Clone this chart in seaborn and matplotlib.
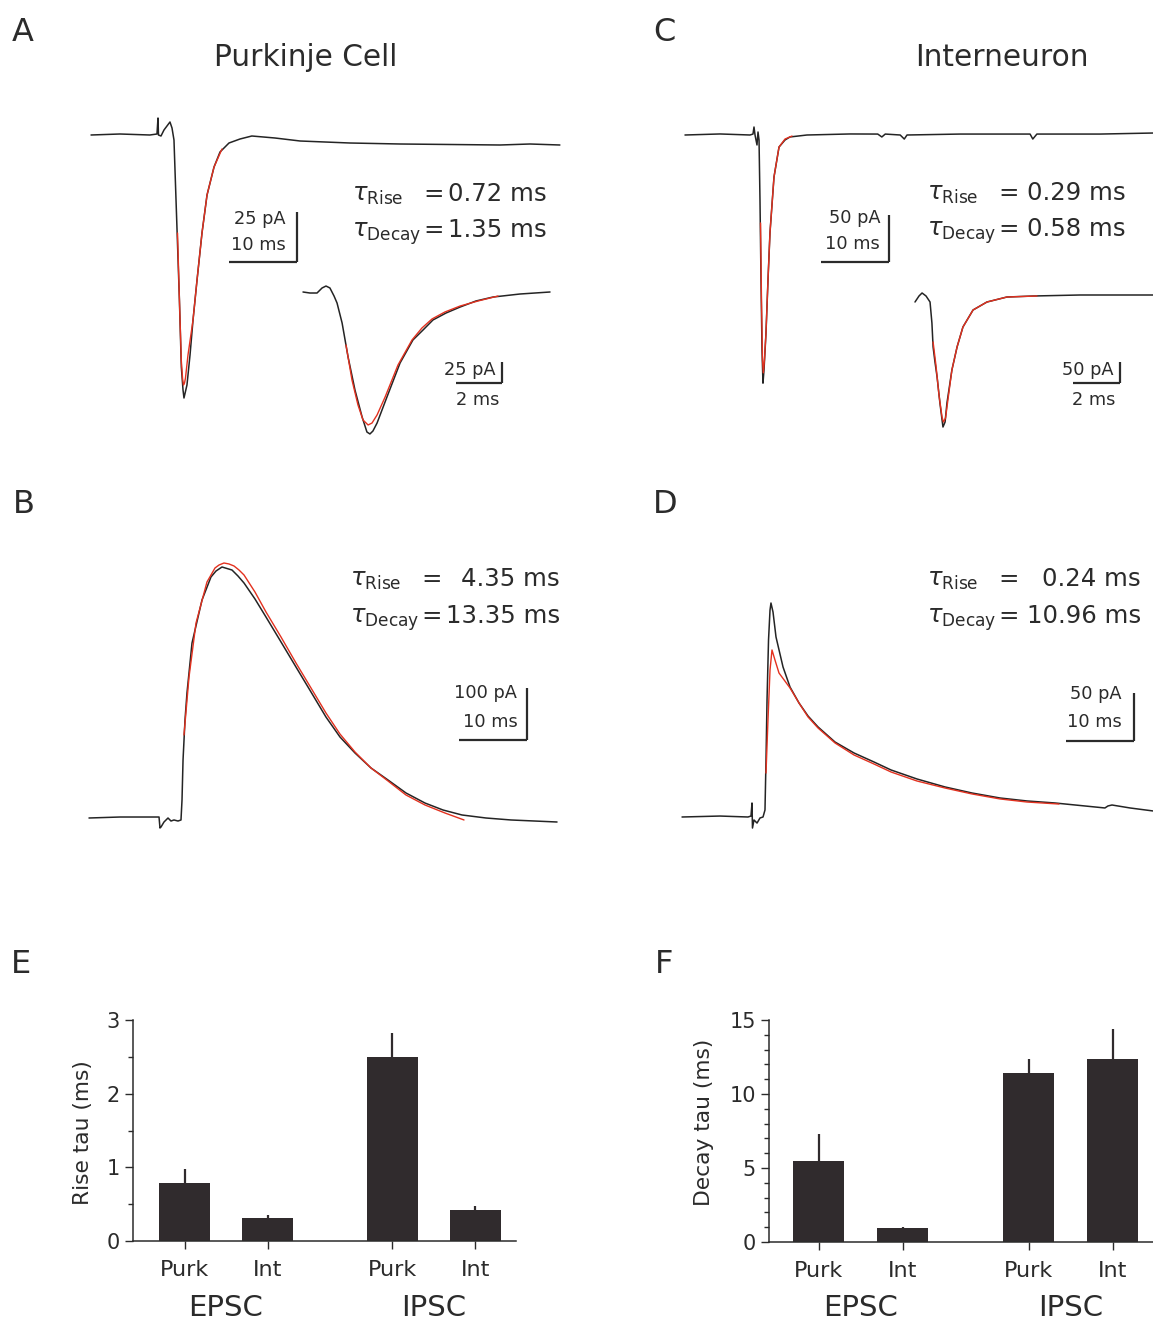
import numpy as np
import matplotlib
matplotlib.use("Agg")
import matplotlib.pyplot as plt
from matplotlib.ticker import MultipleLocator
import seaborn as sns

# ------------------------------------------------------------
# traces (time in ms, current in pA)
# ------------------------------------------------------------
# A: Purkinje cell EPSC
a_t = [-9.85, -5.6, -1.2, -0.15, 0.0, 0.07, 0.44, 0.88, 1.76, 2.06, 2.35, 2.65, 3.15, 3.43, 3.68,
       3.82, 4.26, 4.71, 5.15, 5.74, 6.47, 7.21, 8.24, 9.12, 10.44, 12.06, 13.8, 17.2, 20.9, 28.2,
       35.6, 43.0, 50.3, 54.7, 59.1]
a_i = [0, 0.5, 0, 0.5, 8.5, 0, -0.5, 2.5, 6.5, 3.5, -2.5, -32.5, -82.5, -116, -127.5,
       -131.5, -125, -110, -92.5, -72.5, -49, -30, -16, -8.5, -4, -2, -0.5, -1.5, -3, -4,
       -4.5, -4.75, -5, -4.5, -5]
a_fit_t = [2.87, 3.15, 3.43, 3.62, 3.75, 3.90, 4.04, 4.41, 5.15, 5.74, 6.47, 7.21, 8.24, 9.41]
a_fit_i = [-49, -82.5, -113, -122, -125, -124, -121.5, -110, -92.5, -72.5, -49, -30, -16, -7]
# A inset (expanded time base)
ai_t = [0, 0.30, 0.61, 0.83, 1.0, 1.17, 1.35, 1.48, 1.70, 1.96, 2.26, 2.57, 2.78, 2.91, 3.04,
        3.22, 3.65, 4.22, 4.78, 5.22, 5.65, 6.22, 6.83, 7.52, 8.26, 9.43, 10.74]
ai_i = [0, -1.2, -1.2, 4.8, 7.1, 4.8, -4.8, -13.1, -36.9, -77.4, -116.7, -148.8, -166.7, -169,
        -165.5, -156, -125, -84.5, -57.1, -45.2, -33.3, -25, -17.9, -10.7, -6, -2.4, 0]
ai_fit_t = [1.87, 2.13, 2.39, 2.61, 2.83, 3.0, 3.22, 3.57, 4.13, 4.74, 5.17, 5.61, 6.17, 6.83,
            7.61, 8.48]
ai_fit_i = [-63.1, -104.8, -134.5, -152.4, -158.3, -156, -146.4, -125, -86.9, -57.1, -42.9,
            -32.1, -23.8, -16.7, -10.7, -4.8]

# C: interneuron EPSC
c_t = [-10.15, -5.0, -0.59, -0.15, 0, 0.15, 0.44, 0.59, 0.74, 0.88, 1.03, 1.18, 1.32, 1.47, 1.76,
       2.06, 2.35, 2.94, 3.68, 4.56, 5.29, 7.79, 14.1, 18.2, 18.8, 19.3, 21.5, 22.1, 22.5, 30.3,
       40.6, 41.0, 41.6, 50.9, 58.7]
c_i = [0, 1.1, 0, 1, 8.5, 0, -10.6, 3.2, -5.3, -69, -154, -229, -264, -250, -211,
       -154, -104, -44.7, -12.8, -5.3, -2.1, 0, 1.1, 1, -2.1, 1, 0, -4.3, 0, 1,
       1, -4.3, 1, 1, 2.1]
c_fit_t = [0.96, 1.10, 1.25, 1.37, 1.54, 1.76, 2.06, 2.35, 2.94, 3.68, 4.56, 5.59]
c_fit_i = [-93.6, -175.5, -239, -253, -239, -211, -154, -104, -44.7, -12.8, -4.3, -1.1]
# C inset
ci_t = [0, 0.17, 0.30, 0.47, 0.64, 0.72, 0.77, 0.85, 0.94, 1.06, 1.19, 1.28, 1.36, 1.57, 1.79,
        2.04, 2.47, 3.06, 3.91, 5.02, 7.02, 10.13]
ci_i = [-16.7, -2.4, 4.8, -2.4, -16.7, -66.7, -123.8, -159.5, -195.2, -257.1, -314.3, -302.4,
        -257.1, -178.6, -123.8, -76.2, -35.7, -16.7, -4.8, -2.4, 0, 0]
ci_fit_t = [0.77, 0.89, 1.02, 1.15, 1.21, 1.30, 1.40, 1.57, 1.79, 2.04, 2.47, 3.06, 3.91, 5.19]
ci_fit_i = [-111.9, -166.7, -238.1, -290.5, -302.4, -292.9, -250, -178.6, -123.8, -76.2, -35.7,
            -16.7, -4.8, -2.4]

# B: Purkinje cell IPSC
b_t = [-10.59, -6.03, -0.88, -0.29, -0.15, 0, 0.44, 1.03, 1.47, 1.91, 2.5, 2.94, 3.09, 3.24, 3.53,
       3.82, 4.56, 6.03, 7.35, 8.09, 8.97, 10.44, 11.32, 12.21, 13.82, 15.44, 17.65, 19.85, 22.06,
       24.26, 26.32, 28.53, 30.88, 33.38, 36.03, 38.82, 41.47, 44.26, 47.79, 51.47, 58.24]
b_i = [0, 1.9, 1.9, 1.9, -19.2, -17.3, -7.7, 0, -5.8, -3.8, -5.8, -3.8, 34.6, 111.5, 188.5,
       240.4, 336.5, 419.2, 463.5, 475, 482.7, 476.9, 465.4, 451.9, 421.2, 386.5, 338.5, 290.4,
       242.3, 194.2, 155.8, 125, 96.2, 73.1, 48.1, 28.8, 15.4, 5.8, 0, -3.8, -7.7]
b_fit_t = [3.38, 4.12, 5.15, 6.76, 7.94, 8.53, 9.26, 10.0, 10.74, 11.47, 12.21, 13.82, 15.44,
           17.65, 19.85, 22.06, 24.26, 26.32, 28.53, 30.88, 33.38, 36.03, 38.82, 41.76, 44.56]
b_fit_i = [159.6, 271.2, 375, 453.8, 480.8, 486.5, 490.4, 488.5, 484.6, 476.9, 467.3, 434.6,
           396.2, 348, 298.1, 250, 201.9, 161.5, 126.9, 96.2, 71.2, 44.2, 25, 9.6, -3.8]

# D: interneuron IPSC
d_t = [-10.29, -4.71, -0.59, -0.15, 0, 0.07, 0.29, 0.74, 1.18, 1.62, 1.91, 2.06, 2.21, 2.43, 2.65,
       2.79, 3.09, 3.53, 4.56, 5.59, 6.91, 8.24, 9.71, 12.21, 15.0, 17.94, 20.44, 24.26, 28.38,
       32.35, 36.47, 40.44, 44.56, 51.9, 52.35, 52.94, 55.6, 58.97]
d_i = [0, 1, 0, 1, 14.6, -11.5, -3.1, -6.3, -1, 0, 7.3, 59.4, 121.9, 184.4, 215.6,
       222.9, 213.5, 187.5, 156.3, 135.4, 118.8, 105.2, 93.8, 78.1, 66.7, 57.3, 49, 39.6, 31.3,
       25, 19.8, 16.7, 14.6, 9.4, 11.5, 12.5, 9.4, 6.3]
d_fit_t = [2.06, 2.35, 2.65, 2.94, 3.38, 3.97, 5.59, 6.91, 8.24, 9.71, 12.21, 15.0, 17.94, 20.44,
           24.26, 28.38, 32.35, 36.47, 40.44, 45.15]
d_fit_i = [45.8, 101, 153.1, 174, 163.5, 150, 134.4, 118.8, 104.2, 92.7, 77.1, 64.6, 55.2, 46.9,
           37.5, 30.2, 24, 18.8, 15.6, 13.5]

# fitted time constants
tau_a = ["0.72 ms", "1.35 ms"]
tau_b = ["4.35 ms", "13.35 ms"]
tau_c = ["0.29 ms", "0.58 ms"]
tau_d = ["0.24 ms", "10.96 ms"]

# E / F summary bars
bar_pos = [0, 1, 2.5, 3.5]
bar_labels = ["Purk", "Int", "Purk", "Int"]
group_names = ["EPSC", "IPSC"]
group_pos = [0.5, 3.0]
rise_mean = [0.79, 0.31, 2.50, 0.42]
rise_sem = [0.19, 0.04, 0.33, 0.06]
decay_mean = [5.47, 0.93, 11.4, 12.35]
decay_sem = [1.83, 0.10, 0.95, 2.05]

# ------------------------------------------------------------
sns.set_style("white")
plt.rcParams["font.family"] = ["DejaVu Sans"]
plt.rcParams["mathtext.fontset"] = "dejavusans"

INK = "#2b2b2b"
TRACE = "#242424"
RED = "#e3311f"
BAR = "#302b2d"

W, H = 1153, 1320
fig = plt.figure(figsize=(W / 100, H / 100), dpi=100)
fig.patch.set_facecolor("white")


def box(x0, y0, x1, y1):
    # pixel box (top-left origin) -> figure fraction
    return [x0 / W, 1 - y1 / H, (x1 - x0) / W, (y1 - y0) / H]


def ftext(x, y, s, **kw):
    kw.setdefault("color", INK)
    fig.text(x / W, 1 - y / H, s, **kw)


def trace_axes(x0, y0, x1, y1, org_x, org_y, px_ms, px_pa):
    ax = fig.add_axes(box(x0, y0, x1, y1))
    ax.set_xlim((x0 - org_x) / px_ms, (x1 - org_x) / px_ms)
    ax.set_ylim(-(y1 - org_y) / px_pa, -(y0 - org_y) / px_pa)
    ax.axis("off")
    ax.patch.set_alpha(0)
    return ax


def draw(ax, t, i, t_fit, i_fit):
    sns.lineplot(x=t, y=i, sort=False, estimator=None, color=TRACE, lw=1.1, ax=ax, legend=False)
    sns.lineplot(x=t_fit, y=i_fit, sort=False, estimator=None, color=RED, lw=1.0, ax=ax,
                 legend=False, zorder=3)


def scalebar(ax, t, i, dt, di):
    ax.plot([t - dt, t], [i, i], color=INK, lw=1.6, solid_capstyle="butt")
    ax.plot([t, t], [i, i + di], color=INK, lw=1.6, solid_capstyle="butt")


def tau_text(x, y1, y2, x_end, vals):
    for y, sub, v in [(y1, "Rise", vals[0]), (y2, "Decay", vals[1])]:
        ftext(x, y, r"$\tau_{\mathrm{%s}}$" % sub, fontsize=17.5, va="baseline", ha="left")
        ftext(x + 71, y, "=", fontsize=17.6, va="baseline", ha="left")
        ftext(x_end, y, v, fontsize=17.6, va="baseline", ha="right")


# --- A ---
ax = trace_axes(80, 100, 570, 420, 158, 135, 6.8, 2.0)
draw(ax, a_t, a_i, a_fit_t, a_fit_i)
scalebar(ax, 20.44, -63.5, 10, 25)
ax = trace_axes(295, 270, 560, 450, 303, 292, 23.0, 0.84)
draw(ax, ai_t, ai_i, ai_fit_t, ai_fit_i)
scalebar(ax, 8.65, -108.3, 2, 25)

# --- C ---
ax = trace_axes(675, 100, 1153, 420, 754, 135, 6.8, 0.94)
draw(ax, c_t, c_i, c_fit_t, c_fit_i)
scalebar(ax, 19.85, -135.1, 10, 50)
ax = trace_axes(905, 270, 1153, 450, 915, 295, 23.5, 0.42)
draw(ax, ci_t, ci_i, ci_fit_t, ci_fit_i)
scalebar(ax, 8.72, -209.5, 2, 50)

# --- B ---
ax = trace_axes(80, 540, 570, 840, 161, 818, 6.8, 0.52)
draw(ax, b_t, b_i, b_fit_t, b_fit_i)
scalebar(ax, 53.82, 150, 10, 100)

# --- D ---
ax = trace_axes(675, 540, 1153, 840, 752, 817, 6.8, 0.96)
draw(ax, d_t, d_i, d_fit_t, d_fit_i)
scalebar(ax, 56.18, 79.2, 10, 50)

# panel letters and titles
for x, y, s in [(12, 41, "A"), (653, 41, "C"), (13, 513, "B"), (653, 513, "D"),
                (11, 973, "E"), (655, 973, "F")]:
    ftext(x, y, s, fontsize=23, va="baseline", ha="left")
ftext(306, 66, "Purkinje Cell", fontsize=21.3, va="baseline", ha="center")
ftext(1002, 66, "Interneuron", fontsize=21.3, va="baseline", ha="center")

tau_text(352, 201, 237, 547, tau_a)
tau_text(927, 200, 236, 1126, tau_c)
tau_text(350, 586, 623, 560, tau_b)
tau_text(927, 586, 623, 1141, tau_d)

sb = dict(fontsize=12.8, va="baseline")
ftext(286, 224, "25 pA", ha="right", **sb)
ftext(286, 250, "10 ms", ha="right", **sb)
ftext(495, 375, "25 pA", ha="right", **sb)
ftext(478, 405, "2 ms", ha="center", **sb)
ftext(880, 223, "50 pA", ha="right", **sb)
ftext(880, 249, "10 ms", ha="right", **sb)
ftext(1113, 375, "50 pA", ha="right", **sb)
ftext(1094, 405, "2 ms", ha="center", **sb)
ftext(517, 698, "100 pA", ha="right", **sb)
ftext(518, 727, "10 ms", ha="right", **sb)
ftext(1122, 699, "50 pA", ha="right", **sb)
ftext(1122, 727, "10 ms", ha="right", **sb)


# --- E / F bar charts ---
def bar_panel(bx, means, sems, ymax, minor, ylabel, xlim, lab_xy):
    ax = fig.add_axes(box(*bx))
    sns.barplot(x=bar_pos, y=means, native_scale=True, width=0.61, color=BAR, saturation=1,
                errorbar=None, linewidth=0, ax=ax)
    ax.errorbar(bar_pos, means, yerr=[np.zeros(len(means)), sems], fmt="none",
                ecolor=BAR, elinewidth=1.6, capsize=0)
    ax.set_xlim(*xlim)
    ax.set_ylim(0, ymax)
    ax.set_xticks(bar_pos)
    ax.set_xticklabels(bar_labels)
    ax.yaxis.set_minor_locator(MultipleLocator(minor))
    sns.despine(ax=ax)
    for s in ["left", "bottom"]:
        ax.spines[s].set_color(INK)
        ax.spines[s].set_linewidth(1.1)
    ax.tick_params(axis="both", which="major", direction="out", length=5.8, width=1.0,
                   color=INK, labelcolor=INK)
    ax.tick_params(axis="y", which="minor", direction="out", length=3.6, width=1.0, color=INK,
                   left=True)
    ax.tick_params(axis="y", which="major", labelsize=15, pad=3.6, left=True)
    ax.tick_params(axis="x", which="major", labelsize=16, pad=8, bottom=True)
    ax.set_xlabel("")
    ax.set_ylabel(ylabel, fontsize=15.7, color=INK)
    ax.yaxis.set_label_coords(*lab_xy)
    ax.patch.set_alpha(0)
    bottom_px = bx[3]
    height_px = bx[3] - bx[1]
    for g, p in zip(group_names, group_pos):
        ax.text(p, -(1316 - bottom_px) / height_px, g, transform=ax.get_xaxis_transform(),
                ha="center", va="baseline", fontsize=21, color=INK)
    return ax


bar_panel((133, 1020, 516, 1241), rise_mean, rise_sem, 3, 0.5, "Rise tau (ms)",
          (-0.62, 3.99), (-0.104, 0.49))
bar_panel((769, 1020, 1153, 1242), decay_mean, decay_sem, 15, 1, "Decay tau (ms)",
          (-0.589, 3.98), (-0.143, 0.54))

fig.savefig("out.png", dpi=100, facecolor="white")
